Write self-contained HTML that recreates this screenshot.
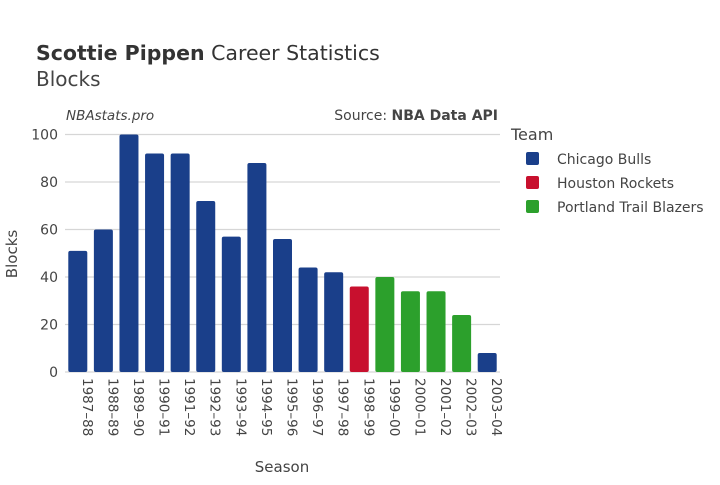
<!DOCTYPE html>
<html><head><meta charset="utf-8"><style>
body{margin:0;background:#fff;font-family:"Liberation Sans","DejaVu Sans",sans-serif;}
svg text{font-family:"DejaVu Sans","Liberation Sans",sans-serif;}
</style></head><body>
<svg width="720" height="480" xmlns="http://www.w3.org/2000/svg">
<text x="36" y="60" font-size="20.5" fill="#333"><tspan font-weight="bold">Scottie Pippen</tspan> Career Statistics</text>
<text x="36" y="86" font-size="20" fill="#444">Blocks</text>
<text x="66" y="120" font-size="13.5" font-style="italic" fill="#444">NBAstats.pro</text>
<text x="498" y="120" font-size="14" fill="#444" text-anchor="end">Source: <tspan font-weight="bold">NBA Data API</tspan></text>
<g id="grid"></g>
<g id="bars"></g>
<g id="xlabels"></g>
<text transform="translate(17,254) rotate(-90)" font-size="15" fill="#444" text-anchor="middle">Blocks</text>
<text x="282" y="472" font-size="15" fill="#444" text-anchor="middle">Season</text>
<text x="511" y="140" font-size="16" fill="#444">Team</text>
<g><rect x="526" y="152" width="13" height="13" rx="2" fill="#1a3f8a"/><text x="557" y="164" font-size="14" fill="#444">Chicago Bulls</text></g>
<g><rect x="526" y="176" width="13" height="13" rx="2" fill="#c8102e"/><text x="557" y="188" font-size="14" fill="#444">Houston Rockets</text></g>
<g><rect x="526" y="200" width="13" height="13" rx="2" fill="#2ca02c"/><text x="557" y="212" font-size="14" fill="#444">Portland Trail Blazers</text></g>
</svg>
<script>
const seasons=["1987–88","1988–89","1989–90","1990–91","1991–92","1992–93","1993–94","1994–95","1995–96","1996–97","1997–98","1998–99","1999–00","2000–01","2001–02","2002–03","2003–04"];
const blocks=[51,60,100,92,92,72,57,88,56,44,42,36,40,34,34,24,8];
const teams=["CHI","CHI","CHI","CHI","CHI","CHI","CHI","CHI","CHI","CHI","CHI","HOU","POR","POR","POR","POR","CHI"];
const yTicks=[0,20,40,60,80,100];
const colors={CHI:"#1a3f8a",HOU:"#c8102e",POR:"#2ca02c"};
const NS="http://www.w3.org/2000/svg";
const y0=372,y1=134.5,xL=65,xR=500;
const y=v=>y0-(v/100)*(y0-y1);
const band=(xR-xL)/seasons.length;
const x=i=>xL+band*i+band/2;
const grid=document.getElementById('grid');
yTicks.forEach(t=>{
 const l=document.createElementNS(NS,'line');
 l.setAttribute('x1',xL);l.setAttribute('x2',xR);l.setAttribute('y1',y(t));l.setAttribute('y2',y(t));
 l.setAttribute('stroke','#d6d6d6');l.setAttribute('stroke-width','1.2');
 
 
 grid.appendChild(l);
 const tx=document.createElementNS(NS,'text');
 tx.setAttribute('x',xL-7);tx.setAttribute('y',y(t)+5);tx.setAttribute('text-anchor','end');
 tx.setAttribute('font-size','14');tx.setAttribute('fill','#444');tx.textContent=t;
 
 
 grid.appendChild(tx);
});
const bars=document.getElementById('bars'),xl=document.getElementById('xlabels');
blocks.forEach((v,i)=>{
 const r=document.createElementNS(NS,'rect');
 const w=19;
 r.setAttribute('x',x(i)-w/2);r.setAttribute('y',y(v));r.setAttribute('width',w);r.setAttribute('height',y0-y(v));
 r.setAttribute('rx','2');r.setAttribute('fill',colors[teams[i]]);
 
 
 bars.appendChild(r);
 const t=document.createElementNS(NS,'text');
 t.setAttribute('transform','translate('+(x(i)+5)+','+(y0+6)+') rotate(90)');
 t.setAttribute('font-size','13.5');t.setAttribute('fill','#444');t.textContent=seasons[i];
 
 
 xl.appendChild(t);
});
</script>
</body></html>
